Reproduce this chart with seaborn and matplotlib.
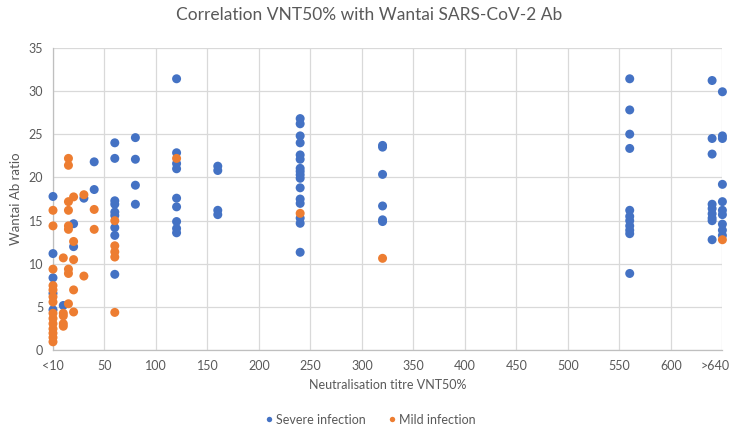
import pandas as pd
import matplotlib.pyplot as plt
import seaborn as sns
from matplotlib.ticker import MultipleLocator
from matplotlib.transforms import ScaledTranslation

# Values
severe_titre = [0, 0, 0, 0, 0,
                10,
                20, 20,
                30,
                40, 40,
                60, 60, 60, 60, 60, 60, 60, 60, 60,
                80, 80, 80, 80,
                120, 120, 120, 120, 120, 120, 120, 120, 120,
                160, 160, 160, 160,
                240, 240, 240, 240, 240, 240, 240, 240, 240, 240, 240, 240, 240, 240, 240, 240,
                320, 320, 320, 320, 320, 320,
                560, 560, 560, 560, 560, 560, 560, 560, 560, 560, 560,
                640, 640, 640, 640, 640, 640, 640, 640, 640,
                650, 650, 650, 650, 650, 650, 650, 650, 650, 650]
severe_ratio = [17.8, 11.2, 8.4, 6.6, 4.7,
                5.2,
                14.65, 12.0,
                17.6,
                21.8, 18.6,
                24.0, 22.2, 17.3, 16.9, 16.0, 15.6, 14.2, 13.3, 8.8,
                24.6, 22.1, 19.1, 16.9,
                31.4, 22.85, 21.6, 21.0, 17.6, 16.6, 14.9, 14.1, 13.6,
                21.3, 20.8, 16.2, 15.7,
                26.8, 26.2, 24.8, 24.0, 22.6, 22.1, 21.05, 20.7, 20.3, 19.9, 18.8, 17.5, 17.0, 15.3, 14.7, 11.35,
                23.7, 23.5, 20.35, 16.7, 15.1, 14.9,
                31.4, 27.8, 25.0, 23.35, 16.2, 15.5, 15.0, 14.4, 13.9, 13.5, 8.9,
                31.2, 24.5, 22.7, 16.9, 16.4, 15.8, 15.3, 15.0, 12.8,
                29.9, 24.8, 24.5, 19.2, 17.2, 16.2, 15.7, 14.6, 13.9, 13.3]

mild_titre = [0, 0, 0, 0, 0, 0, 0, 0, 0, 0, 0, 0, 0, 0,
              10, 10, 10, 10, 10,
              15, 15, 15, 15, 15, 15, 15, 15, 15,
              20, 20, 20, 20, 20,
              30, 30,
              40, 40,
              60, 60, 60, 60, 60,
              120,
              240,
              320,
              650]
mild_ratio = [16.2, 14.4, 9.4, 7.5, 7.0, 6.2, 5.6, 4.3, 3.7, 3.1, 2.5, 2.0, 1.5, 1.0,
              10.7, 4.3, 4.0, 3.1, 2.8,
              22.2, 21.4, 17.2, 16.2, 14.4, 14.0, 9.4, 8.9, 5.4,
              17.75, 12.6, 10.5, 7.0, 4.45,
              18.0, 8.6,
              16.3, 14.0,
              15.0, 12.1, 11.4, 10.8, 4.4,
              22.2,
              15.85,
              10.65,
              12.8]

groups = ["Severe infection", "Mild infection"]
colors = ["#4472C4", "#ED7D31"]
x_ticks = [0, 50, 100, 150, 200, 250, 300, 350, 400, 450, 500, 550, 600, 650]
x_tick_labels = ["<10", "50", "100", "150", "200", "250", "300", "350",
                 "400", "450", "500", "550", "600", ">640"]

df = pd.concat([
    pd.DataFrame({"titre": severe_titre, "ratio": severe_ratio, "group": groups[0]}),
    pd.DataFrame({"titre": mild_titre, "ratio": mild_ratio, "group": groups[1]}),
], ignore_index=True)

sns.set_theme(style="white")
plt.rcParams["font.family"] = ["Lato", "DejaVu Sans"]
text_col = "#595959"
line_col = "#d9d9d9"

fig = plt.figure(figsize=(7.3, 4.37), dpi=100)
ax = fig.add_axes([0.0726, 0.198, 0.917, 0.693])

sns.scatterplot(data=df, x="titre", y="ratio", hue="group", hue_order=groups,
                palette=colors, s=42, linewidth=0, alpha=1, ax=ax, zorder=3)
# markers on the axis edges are not cut in the original
for coll in ax.collections:
    coll.set_clip_on(False)

ax.set_xlim(0, 650)
ax.set_ylim(0, 35)
ax.set_xticks(x_ticks)
ax.set_xticklabels(x_tick_labels)
ax.set_yticks(range(0, 36, 5))
ax.xaxis.set_minor_locator(MultipleLocator(10))
ax.yaxis.set_minor_locator(MultipleLocator(1))
ax.tick_params(which="major", length=0, labelsize=9, labelcolor=text_col, pad=7)
ax.tick_params(which="minor", direction="in", length=3, color="#bfbfbf", width=0.8)

# keep ">640" inside the figure
last = ax.get_xticklabels()[-1]
last.set_ha("right")
last.set_transform(last.get_transform() + ScaledTranslation(0.07, 0, fig.dpi_scale_trans))

ax.grid(True, which="major", color=line_col, lw=0.9)
ax.set_axisbelow(True)
for side in ["top", "right"]:
    ax.spines[side].set_visible(False)
for side in ["left", "bottom"]:
    ax.spines[side].set_color("#bfbfbf")
    ax.spines[side].set_linewidth(0.9)

ax.set_xlabel("Neutralisation titre VNT50%", fontsize=9, color=text_col, labelpad=5)
ax.set_ylabel("Wantai Ab ratio", fontsize=9.5, color=text_col, labelpad=5)
fig.suptitle("Correlation VNT50% with Wantai SARS-CoV-2 Ab", x=0.505, y=0.985,
             fontsize=12.5, color=text_col)

ax.legend(loc="lower center", bbox_to_anchor=(0.507, 0.0), bbox_transform=fig.transFigure,
          ncol=2, frameon=False, fontsize=9, labelcolor=text_col, markerscale=0.6,
          handlelength=0.6, handletextpad=0.25, columnspacing=1.8)

fig.savefig("out.png", dpi=100)
